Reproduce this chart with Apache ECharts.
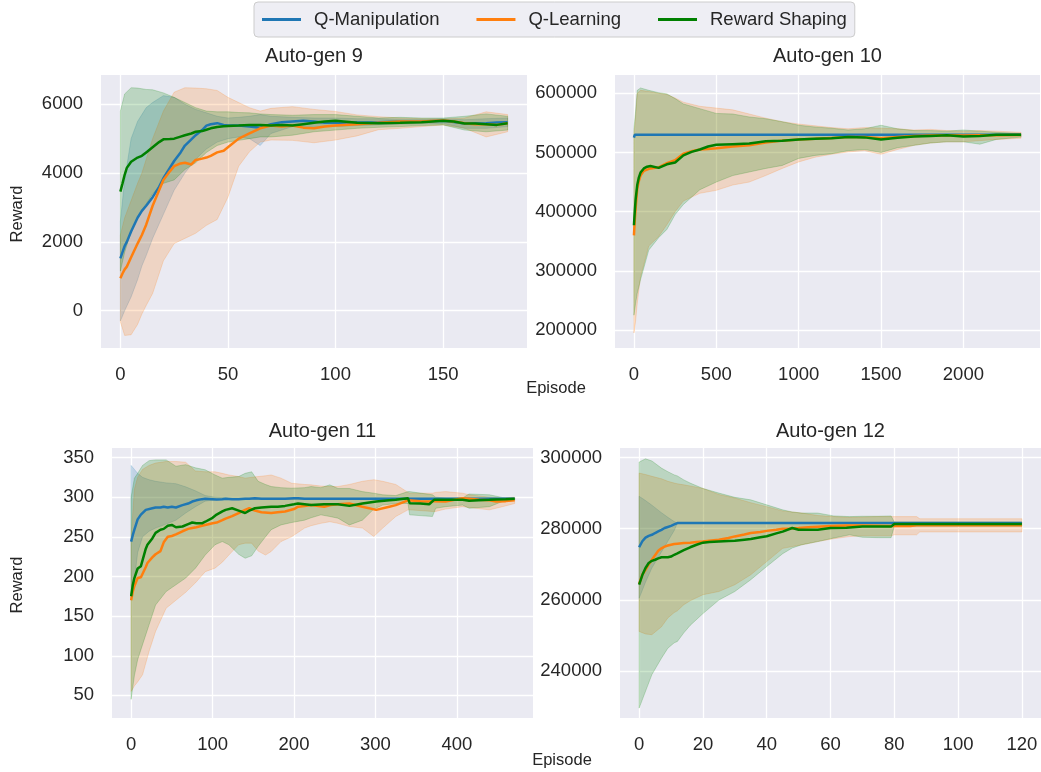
<!DOCTYPE html>
<html><head><meta charset="utf-8">
<script src="https://cdn.jsdelivr.net/npm/echarts@6/dist/echarts.min.js"></script>
<style>html,body{margin:0;padding:0;background:#fff}#c{width:1041px;height:772px}</style>
</head><body><div id="c"></div><script>
// ---------------- DATA ----------------
const seriesNames = ['Q-Manipulation', 'Q-Learning', 'Reward Shaping'];
const panelTitles = ['Auto-gen 9', 'Auto-gen 10', 'Auto-gen 11', 'Auto-gen 12'];

// Auto-gen 9
const g9XTicks = [0, 50, 100, 150];
const g9YTicks = [0, 2000, 4000, 6000];
const g9X = [0,1,2,3,5,8,10,12,15,18,20,23,25,28,30,33,35,38,40,42,45,48,50,55,60,65,70,75,80,85,90,95,100,110,120,130,140,150,155,160,165,170,175,180];
const g9QM = [1520,1700,1880,2000,2300,2700,2900,3050,3300,3600,3850,4150,4350,4600,4800,4980,5100,5250,5380,5420,5450,5400,5380,5380,5350,5320,5420,5480,5500,5520,5500,5460,5460,5470,5480,5500,5500,5520,5480,5440,5440,5450,5470,5480];
const g9QL = [940,1080,1200,1280,1550,1950,2200,2500,3050,3500,3800,4050,4200,4280,4300,4250,4380,4420,4450,4500,4600,4650,4750,5000,5150,5300,5380,5350,5380,5320,5300,5350,5380,5420,5460,5500,5500,5530,5500,5450,5420,5420,5400,5450];
const g9RS = [3460,3700,3950,4150,4330,4450,4500,4600,4750,4900,4980,4990,5000,5060,5100,5150,5200,5220,5260,5300,5340,5360,5370,5380,5400,5400,5380,5400,5380,5420,5460,5500,5520,5460,5450,5460,5480,5520,5500,5440,5440,5420,5400,5450];
const g9BandX = [0,2,5,8,10,12,15,20,25,30,35,40,45,50,55,60,65,70,80,90,100,110,120,130,140,150,160,170,180];
const g9QMHi = [2600,3800,5000,5500,5700,5900,6050,6250,6200,6000,5850,5750,5650,5600,5620,5650,5700,5650,5620,5600,5600,5580,5580,5560,5560,5580,5550,5580,5600];
const g9QMLo = [-300,0,400,900,1300,1600,2100,2800,3500,4000,4400,4700,4900,5000,5050,5000,4800,5150,5350,5350,5350,5380,5400,5420,5430,5440,5300,5300,5350];
const g9QLHi = [2200,2700,3200,3700,4000,4400,5000,5800,6350,6480,6470,6450,6400,6200,6050,5900,5800,5880,5930,5850,5790,5690,5640,5600,5580,5570,5600,5780,5700];
const g9QLLo = [-330,-720,-700,-400,-100,150,500,1450,1950,2100,2250,2480,2650,3300,4200,4620,4900,4960,4950,4880,4960,5080,5260,5300,5350,5400,5300,5050,5200];
const g9RSHi = [5800,6300,6480,6470,6450,6430,6420,6330,6200,6050,5900,5800,5780,5780,5760,5750,5720,5700,5680,5700,5700,5650,5600,5620,5600,5600,5650,5720,5650];
const g9RSLo = [1150,1700,2300,2700,2900,3100,3400,3700,3800,4100,4300,4600,4800,4900,4950,5000,5050,5050,5100,5200,5250,5300,5330,5350,5380,5400,5250,5200,5250];

// Auto-gen 10
const g10XTicks = [0, 500, 1000, 1500, 2000];
const g10YTicks = [200000, 300000, 400000, 500000, 600000];
const g10X = [0,5,10,20,30,40,60,80,100,150,200,250,300,350,400,450,500,600,700,800,900,1000,1100,1200,1300,1400,1500,1600,1700,1800,1900,2000,2100,2200,2350];
const g10QM = [525000,530000,530000,530000,530000,530000,530000,530000,530000,530000,530000,530000,530000,530000,530000,530000,530000,530000,530000,530000,530000,530000,530000,530000,530000,530000,530000,530000,530000,530000,530000,530000,530000,530000,530500];
const g10QL = [360000,385000,405000,439000,452000,461000,469000,471000,473000,475000,482000,487000,498000,502000,505000,506000,507000,510000,512000,517000,520000,522000,523000,524500,526000,526000,524000,526000,528000,528500,529000,528500,529000,529000,529500];
const g10RS = [377000,400000,420000,445000,458000,466000,473000,476000,477000,474000,480000,483000,495000,501000,505000,510000,513000,514000,515000,519000,520000,522000,523000,524000,526000,525500,522000,525000,527000,528000,529000,527000,528000,530000,530000];
const g10BandX = [0,10,20,40,90,150,200,250,300,400,500,600,700,800,900,1000,1100,1200,1300,1400,1500,1600,1700,1800,1900,2000,2100,2200,2350];
const g10QLHi = [530000,560000,600000,605000,603000,600000,598000,592000,585000,578000,575000,572000,565000,558000,552000,548000,545000,542000,540000,542000,541000,540000,538000,539000,537000,536000,537000,536000,534000];
const g10QLLo = [195000,215000,245000,290000,342000,358000,378000,400000,418000,431000,436000,445000,450000,461000,473000,484000,492000,497000,501000,503000,497000,505000,512000,516000,518000,518000,520000,522000,524000];
const g10RSHi = [540000,570000,605000,609000,605000,601000,599000,591000,582000,574000,566000,565000,560000,557000,552000,546000,543000,541000,538000,540000,546000,540000,537000,537000,536000,538000,536000,534000,532000];
const g10RSLo = [225000,245000,262000,285000,335000,356000,370000,395000,412000,437000,450000,461000,467000,473000,478000,490000,495000,498000,503000,505000,500000,508000,512000,516000,518000,518000,514000,522000,526000];

// Auto-gen 11
const g11XTicks = [0, 100, 200, 300, 400];
const g11YTicks = [50, 100, 150, 200, 250, 300, 350];
const g11X = [0,2,4,8,12,18,20,26,30,36,40,45,50,55,63,70,75,80,87,91,100,105,112,116,124,132,140,145,152,160,172,180,189,200,205,213,221,237,245,254,268,284,301,317,325,340,342,355,366,372,386,407,415,427,440,448,460,471];
const g11QM = [244,252,259,272,278,284,285,286,287,287,288,287,288,287,290,292,294.5,296,297.5,298,297.5,297,297.5,298,297.5,297.5,298,298,298.5,298,298,298,298,298.5,298.5,298,298,298,298,298,298,298,298,298,298,298,298,298,298,298,298,298,298,298,298,298,298,298];
const g11QL = [170,181,188,198,199,212,217,224,228,232,243,250,251,253,257,260,261,262,264,265,267,268,271,273,276,280,284,286,283,281,280,281,282,285,288,289,290,288,290,291,292,288,284,288,290,296,296.6,295,294.5,295,294.5,298.7,298,296.6,296,294.5,295,296];
const g11RS = [175,189,198,210,213,235,240,248,255,259,260,264,265,262,263,266,268,267,267,269,274,278,282,284,286,283,280,283,286,287,288,288,289,291,292,291,290,291,291,291,289,292,294.5,296,296.6,298.7,292.4,292,291,296.6,296.6,296.6,295.4,296,296.6,297,297.5,298];
const g11BandX = [0,4,8,14,22,30,43,55,67,79,91,103,112,120,132,140,148,156,165,172,184,197,213,221,233,244,254,268,284,298,309,325,340,342,370,374,386,407,415,440,456,471];
const g11QMHi = [340,335,330,325,322,320,318,317,313,308,302,300,299.5,299,299,299,299,299,299,299,299,299,299,299,299,299,299,299,299,299,299,299,299,299,299,299,299,299,299,299,299,299];
const g11QMLo = [170,195,230,250,257,261,266,271,280,288,295,296.5,297,297,297,297,297,297,297,297,297,297,297,297,297,297,297,297,297,297,297,297,297,297,297,297,297,297,297,297,297,297];
const g11QLHi = [250,310,325,335,340,343,345,345,344,333,332,332,330,328,326,324,325,326,327,328,324,317.6,316,315.5,314,313.4,313.4,316,320,322,320,316,306,305,305,306,307,305,303,300,299,300];
const g11QLLo = [55,62,67,76,105.5,130.7,160,170,180,192,206,210.5,218,227,240,242,242,232,227,231.5,244,250,261,264,267,269,267,263,261,250.4,261,275.6,284,284,282,282,285,288,287,284,288,292];
const g11RSHi = [300,324,330,340,346,347,347,339,341,337,334.5,328,324,325,326,330,332,320,316,313.4,312,311.3,312,313.4,312,315.5,311,311,307,305,303,302,307,307,303,300,299,299,304,303,299.6,298.5];
const g11RSLo = [45,75,95,114,139,164,181,189.5,198,210.5,227,240,244,240,228,223,226,238,250,259,265,268,271,274,277.7,275.6,273.5,265,271,285,290,292,292,277.7,275.6,286,288,290,286,288,294.5,296];

// Auto-gen 12
const g12XTicks = [0, 20, 40, 60, 80, 100, 120];
const g12YTicks = [240000, 260000, 280000, 300000];
const g12X = [0,1,2,3,4,5,6,7,8,9,10,11,12,14,16,18,20,22,25,28,30,33,35,38,40,43,45,48,50,53,56,60,65,70,75,79,80,85,87,90,100,110,120];
const g12QM = [274800,276500,277500,278000,278300,278800,279250,279700,280200,280500,280800,281200,281600,281600,281600,281600,281600,281600,281600,281600,281600,281600,281600,281600,281600,281600,281600,281600,281600,281600,281600,281600,281600,281600,281600,281600,281600,281600,281600,281600,281600,281600,281600];
const g12QL = [264500,267100,268500,270000,271300,272600,273800,274500,275000,275300,275500,275700,275800,276000,276100,276300,276400,276600,276900,277400,277850,278400,278800,279100,279400,279700,280000,280100,280200,280400,280560,280750,280900,280900,280850,280800,280800,280800,281000,281000,281000,281000,281000];
const g12RS = [264300,267000,269000,270400,271000,271300,271700,272000,272000,272000,272200,272700,273100,274000,274800,275500,276100,276300,276450,276550,276600,276900,277100,277600,277900,278700,279200,280200,279700,279700,279700,280200,280300,280600,280650,280650,281300,281300,281300,281300,281300,281300,281300];
const g12BandX = [0,2,4,7,9,11,12,14,16,20,25,30,35,40,45,48,51,56,61,66,70,75,79,80,87,88,100,110,120];
const g12QMHi = [289100,287900,286600,284500,283200,282000,281600,281600,281600,281600,281600,281600,281600,281600,281600,281600,281600,281600,281600,281600,281600,281600,281600,281600,281600,281600,281600,281600,281600];
const g12QMLo = [260500,265000,269000,273500,276500,279500,281600,281600,281600,281600,281600,281600,281600,281600,281600,281600,281600,281600,281600,281600,281600,281600,281600,281600,281600,281600,281600,281600,281600];
const g12QLHi = [295600,295200,294700,294000,293300,292800,292600,292300,292000,291300,289600,288600,287300,286200,285000,284700,284400,283700,283400,283200,283300,283400,283400,283400,283400,282800,282800,282800,282800];
const g12QLLo = [251200,250500,250300,252500,255000,256500,257000,258700,259800,261500,262400,264300,267100,270800,274500,275000,275500,276400,277200,277800,278000,278000,278000,278300,278300,279100,279100,279100,279100];
const g12RSHi = [298700,299600,299000,297000,296000,295100,294800,293700,292800,291300,290000,288800,288100,286700,285300,284700,284400,284400,283600,283400,283500,283500,283600,281900,281900,281900,281900,281900,281900];
const g12RSLo = [229700,234400,239100,243700,246500,248000,248400,250800,252900,256200,260000,262400,265700,269400,273000,274600,275500,276400,277400,278300,277600,277500,277500,280700,280700,280700,280700,280700,280700];

// ---------------- CHART ----------------
const FONT = "'Liberation Sans', Arial, Helvetica, sans-serif";
const TXT = '#262626';
const LINE_COLORS = ['#1f77b4', '#ff7f0e', '#008000'];
const FILL_COLORS = ['rgba(31,119,180,0.2)', 'rgba(255,127,14,0.2)', 'rgba(0,128,0,0.2)'];

const panels = [
  { grid: {left: 101, top: 75, width: 426, height: 273}, title: {cx: 314, top: 46},
    xr: [-9, 189, 4], yr: [-1085, 6850, 4], xt: g9XTicks, yt: g9YTicks,
    x: g9X, means: [g9QM, g9QL, g9RS], bx: g9BandX,
    bands: [[g9QMLo, g9QMHi], [g9QLLo, g9QLHi], [g9RSLo, g9RSHi]] },
  { grid: {left: 615, top: 75, width: 425, height: 273}, title: {cx: 827.5, top: 46},
    xr: [-115, 2465, 5], yr: [169600, 630900, 5], xt: g10XTicks, yt: g10YTicks,
    x: g10X, means: [g10QM, g10QL, g10RS], bx: g10BandX,
    bands: [null, [g10QLLo, g10QLHi], [g10RSLo, g10RSHi]] },
  { grid: {left: 112, top: 448, width: 421, height: 270}, title: {cx: 322.5, top: 421},
    xr: [-23.5, 493.5, 5], yr: [21.5, 362, 7], xt: g11XTicks, yt: g11YTicks,
    x: g11X, means: [g11QM, g11QL, g11RS], bx: g11BandX,
    bands: [[g11QMLo, g11QMHi], [g11QLLo, g11QLHi], [g11RSLo, g11RSHi]] },
  { grid: {left: 620, top: 448, width: 421, height: 270}, title: {cx: 830.5, top: 421},
    xr: [-6, 126, 6], yr: [226930, 302640, 4], xt: g12XTicks, yt: g12YTicks,
    x: g12X, means: [g12QM, g12QL, g12RS], bx: g12BandX,
    bands: [[g12QMLo, g12QMHi], [g12QLLo, g12QLHi], [g12RSLo, g12RSHi]] }
];

const grids = [], xAxes = [], yAxes = [], titles = [], series = [];
const splitLine = {show: true, showMinLine: false, showMaxLine: false, lineStyle: {color: '#ffffff', width: 1.3}};
const labelBase = {color: TXT, fontSize: 18.5, fontFamily: FONT, showMinLabel: false, showMaxLabel: false};

panels.forEach((p, gi) => {
  grids.push(Object.assign({show: true, backgroundColor: '#EAEAF2', borderWidth: 0, containLabel: false}, p.grid));
  titles.push({text: panelTitles[gi], left: p.title.cx, top: p.title.top, textAlign: 'center', padding: 0,
    textStyle: {fontSize: 20, fontWeight: 'normal', color: TXT, fontFamily: FONT}});
  xAxes.push({type: 'value', gridIndex: gi, min: p.xr[0], max: p.xr[1], splitNumber: p.xr[2],
    axisLine: {show: false}, axisTick: {show: false}, splitLine,
    axisLabel: Object.assign({margin: 17, formatter: v => p.xt.includes(v) ? String(v) : ''}, labelBase)});
  yAxes.push({type: 'value', gridIndex: gi, min: p.yr[0], max: p.yr[1], splitNumber: p.yr[2],
    axisLine: {show: false}, axisTick: {show: false}, splitLine,
    axisLabel: Object.assign({margin: 18, formatter: v => p.yt.includes(v) ? String(v) : ''}, labelBase)});
  // bands
  p.bands.forEach((b, si) => {
    if (!b) return;
    const lo = b[0], hi = b[1], xs = p.bx;
    series.push({
      type: 'custom', name: seriesNames[si] + ' band', xAxisIndex: gi, yAxisIndex: gi,
      silent: true, animation: false, z: 1, clip: true,
      data: xs.map((x, i) => [x, lo[i], hi[i]]),
      encode: {x: 0, y: [1, 2]},
      renderItem: (params, api) => {
        if (params.dataIndex !== 0) return null;
        const top = xs.map((x, i) => api.coord([x, hi[i]]));
        const bot = xs.map((x, i) => api.coord([x, lo[i]])).reverse();
        return {type: 'polygon', shape: {points: top.concat(bot)},
          style: {fill: FILL_COLORS[si], stroke: FILL_COLORS[si], lineWidth: 1}};
      }
    });
  });
  // mean lines
  p.means.forEach((m, si) => {
    series.push({
      type: 'line', name: seriesNames[si], xAxisIndex: gi, yAxisIndex: gi,
      data: p.x.map((x, i) => [x, m[i]]), showSymbol: false, symbol: 'none',
      lineStyle: {color: LINE_COLORS[si], width: 2.5}, itemStyle: {color: LINE_COLORS[si]},
      z: 3 + si, animation: false
    });
  });
});

const chart = echarts.init(document.getElementById('c'), null, {renderer: 'canvas'});
chart.setOption({
  backgroundColor: '#ffffff',
  animation: false,
  title: titles,
  legend: {
    data: seriesNames, left: 254, top: 2, orient: 'horizontal',
    icon: 'rect', itemWidth: 39, itemHeight: 3, itemGap: 37,
    padding: [8, 8, 8, 8], borderColor: '#cccccc', borderWidth: 1, borderRadius: 4,
    backgroundColor: '#EEEEF4',
    textStyle: {fontSize: 18.5, color: TXT, fontFamily: FONT, padding: [0, 0, 0, 8]}
  },
  grid: grids, xAxis: xAxes, yAxis: yAxes, series,
  graphic: [
    {type: 'text', x: 17, y: 214, rotation: Math.PI / 2,
      style: {text: 'Reward', font: '16.5px ' + FONT, fill: TXT, textAlign: 'center', textVerticalAlign: 'middle'}},
    {type: 'text', x: 17, y: 585, rotation: Math.PI / 2,
      style: {text: 'Reward', font: '16.5px ' + FONT, fill: TXT, textAlign: 'center', textVerticalAlign: 'middle'}},
    {type: 'text', x: 556, y: 388,
      style: {text: 'Episode', font: '16.5px ' + FONT, fill: TXT, textAlign: 'center', textVerticalAlign: 'middle'}},
    {type: 'text', x: 562, y: 760,
      style: {text: 'Episode', font: '16.5px ' + FONT, fill: TXT, textAlign: 'center', textVerticalAlign: 'middle'}}
  ]
});
</script></body></html>
